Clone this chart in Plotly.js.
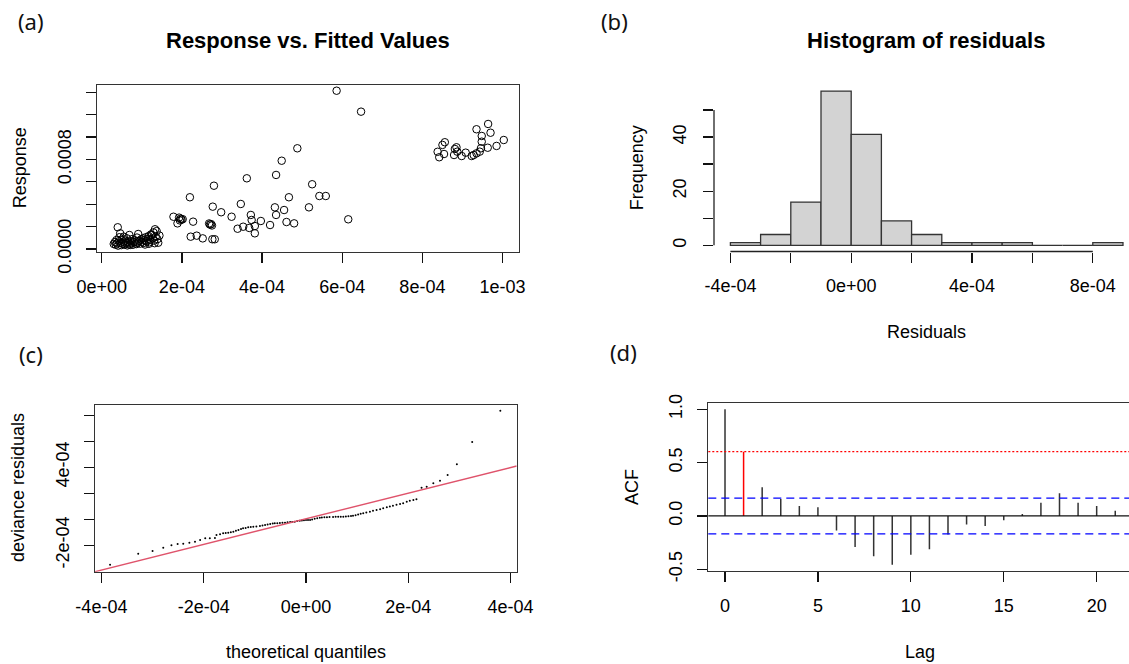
<!DOCTYPE html>
<html>
<head>
<meta charset="utf-8">
<script src="https://cdn.plot.ly/plotly-3.0.1.min.js"></script>
<style>
  html, body { margin: 0; padding: 0; background: #fff; }
  #chart { width: 1129px; height: 664px; }
</style>
</head>
<body>
<div id="chart"></div>
<script>
// ---------------- DATA ----------------
// (a) Response vs. Fitted Values (values in units of 1e-4)
const fittedE4 = [
  0.30,0.33,0.35,0.37,0.38,0.40,0.41,0.43,0.44,0.46,0.47,0.49,0.50,0.52,0.54,0.55,0.57,0.59,0.61,0.63,
  0.64,0.66,0.69,0.70,0.72,0.74,0.76,0.78,0.80,0.83,0.85,0.88,0.90,0.91,0.93,0.96,0.98,1.00,1.03,1.05,
  1.07,1.10,1.12,1.15,1.17,1.19,1.21,1.23,1.25,1.27,1.29,1.31,1.33,1.35,1.37,1.39,1.41,1.44,
  0.58,0.71,0.87,1.08,1.18,1.32,
  1.79,1.89,1.93,1.97,1.99,1.95,2.02,2.20,2.28,2.22,2.37,2.52,2.68,2.70,2.73,2.75,2.76,2.82,2.77,2.80,
  2.98,3.24,3.47,3.62,3.39,3.53,3.68,3.72,3.74,3.82,3.82,3.97,4.20,4.32,4.35,4.35,4.49,4.55,4.61,4.67,
  4.80,4.88,5.17,5.25,5.43,5.59,5.86,6.15,6.47,
  8.38,8.42,8.54,8.50,8.56,8.81,8.85,8.79,8.87,8.98,9.08,9.23,9.28,9.35,9.35,9.43,9.48,9.48,9.46,9.64,
  9.70,9.63,9.85,10.03
];
const responseE4 = [
  0.45,0.62,0.38,0.80,0.50,1.94,0.30,0.70,1.05,1.40,0.55,0.35,0.85,0.48,0.65,1.10,0.40,0.75,0.55,0.95,
  0.32,0.60,1.25,0.45,0.70,0.52,0.88,0.38,0.62,0.75,0.50,1.02,0.58,1.34,0.72,0.48,0.86,0.65,0.95,0.55,
  0.78,1.05,0.68,0.90,1.15,0.60,0.82,1.30,1.25,0.95,1.48,0.75,1.76,1.10,1.60,0.88,0.56,1.20,
  0.42,0.36,0.44,0.40,0.47,0.52,
  2.88,2.29,2.80,2.70,2.62,2.55,2.66,4.62,2.44,1.10,1.19,0.95,2.28,2.18,2.22,2.10,0.87,0.87,3.78,5.65,
  3.28,2.88,4.02,6.31,1.81,1.99,1.88,3.04,2.59,2.05,1.40,2.50,2.14,3.72,6.61,3.04,7.88,3.48,2.41,4.62,
  2.29,8.99,3.72,5.78,4.73,4.73,14.13,2.65,12.26,
  8.68,8.19,8.48,9.29,9.53,8.93,9.08,8.39,8.69,8.30,8.60,8.30,8.39,8.54,10.69,8.69,9.58,10.09,8.99,11.16,
  10.38,9.04,9.20,9.73
];
const xTicksA = [0, 2e-4, 4e-4, 6e-4, 8e-4, 1e-3];
const xLabelsA = ['0e+00', '2e-04', '4e-04', '6e-04', '8e-04', '1e-03'];
const yTicksA = [0, 2e-4, 4e-4, 6e-4, 8e-4, 10e-4, 12e-4, 14e-4];
const yLabelsA = ['0.0000', '', '', '', '0.0008', '', '', ''];

// (b) Histogram of residuals
const binEdges = [-4e-4,-3e-4,-2e-4,-1e-4,0,1e-4,2e-4,3e-4,4e-4,5e-4,6e-4,7e-4,8e-4,9e-4];
const binCounts = [1, 4, 16, 57, 41, 9, 4, 1, 1, 1, 0, 0, 1];
const xTicksB = [-4e-4, -2e-4, 0, 2e-4, 4e-4, 6e-4, 8e-4];
const xLabelsB = ['-4e-04', '', '0e+00', '', '4e-04', '', '8e-04'];
const yTicksB = [0, 10, 20, 30, 40, 50];
const yLabelsB = ['0', '', '20', '', '40', ''];

// (c) QQ plot of deviance residuals (units of 1e-4)
const qqTheoE4 = [
  -3.83,-3.28,-3.00,-2.79,-2.63,-2.51,-2.40,-2.28,-2.17,-2.07,-1.97,-1.88,-1.78,-1.75,-1.68,-1.62,-1.57,-1.52,-1.47,-1.42,
  -1.37,-1.32,-1.27,-1.23,-1.18,-1.13,-1.08,-1.03,-0.97,-0.90,-0.85,-0.80,-0.75,-0.70,-0.65,-0.61,-0.56,-0.51,-0.46,-0.41,
  -0.36,-0.31,-0.27,-0.22,-0.17,-0.12,-0.08,-0.04,0.00,0.04,0.08,0.12,0.17,0.22,0.27,0.31,0.36,0.41,0.46,0.53,
  0.58,0.63,0.68,0.73,0.78,0.83,0.88,0.92,0.97,1.02,1.07,1.12,1.18,1.25,1.31,1.38,1.45,1.51,1.58,1.64,
  1.70,1.77,1.84,1.90,1.97,2.03,2.10,2.16,2.26,2.36,2.49,2.62,2.77,2.95,3.25,3.80
];
const qqResidE4 = [
  -3.49,-2.65,-2.44,-2.18,-2.00,-1.90,-1.88,-1.80,-1.72,-1.59,-1.46,-1.46,-1.44,-1.21,-1.15,-1.08,-1.05,-1.03,-0.99,-0.95,
  -0.88,-0.82,-0.75,-0.69,-0.66,-0.62,-0.60,-0.57,-0.55,-0.52,-0.48,-0.44,-0.40,-0.36,-0.33,-0.31,-0.30,-0.28,-0.27,-0.26,
  -0.23,-0.21,-0.20,-0.18,-0.14,-0.11,-0.09,-0.07,-0.06,-0.05,-0.05,-0.01,0.05,0.09,0.12,0.13,0.15,0.16,0.17,0.18,
  0.19,0.19,0.20,0.20,0.22,0.24,0.26,0.28,0.32,0.37,0.42,0.46,0.52,0.58,0.65,0.71,0.77,0.84,0.92,0.98,
  1.04,1.12,1.17,1.23,1.35,1.43,1.49,1.54,2.43,2.51,2.77,2.97,3.41,4.23,5.95,8.35
];
const qqLineIntercept = 3.8e-6;
const qqLineSlope = 0.986;
const xTicksC = [-4e-4, -2e-4, 0, 2e-4, 4e-4];
const xLabelsC = ['-4e-04', '-2e-04', '0e+00', '2e-04', '4e-04'];
const yTicksC = [-2e-4, 0, 2e-4, 4e-4, 6e-4, 8e-4];
const yLabelsC = ['-2e-04', '', '', '4e-04', '', ''];

// (d) ACF of residuals
const acfLags = [0,1,2,3,4,5,6,7,8,9,10,11,12,13,14,15,16,17,18,19,20,21];
const acfValues = [1.0,0.603,0.269,0.159,0.093,0.081,-0.137,-0.290,-0.377,-0.457,-0.364,-0.311,-0.174,-0.081,-0.093,-0.040,0.019,0.125,0.212,0.125,0.093,0.050];
const acfCI = 0.168;
const acfRedLevel = 0.603;
const xTicksD = [0, 5, 10, 15, 20];
const yTicksD = [-0.5, 0, 0.5, 1.0];
const yLabelsD = ['-0.5', '0.0', '0.5', '1.0'];

// ---------------- LAYOUT HELPERS ----------------
const W = 1129, H = 664;
const px = v => v / W;           // pixel x -> paper
const py = v => 1 - v / H;       // pixel y -> paper
const FONT = 'Liberation Sans, Arial, Helvetica, sans-serif';
const LABFONT = 'Noto Sans, Open Sans, sans-serif';
const E4 = 1e-4;

const base = {
  showgrid: false, zeroline: false, ticks: 'outside', ticklen: 10, tickwidth: 1.3,
  tickcolor: '#111', showline: true, mirror: true, linecolor: '#333', linewidth: 1.3,
  tickfont: { family: FONT, size: 18, color: '#000' }, fixedrange: true, automargin: false
};
const xAx = (o) => Object.assign({}, base, { ticklabelstandoff: 8 }, o);
const yAx = (o) => Object.assign({}, base, { tickangle: -90, ticklabelstandoff: 8 }, o);

// ---------------- TRACES ----------------
const traces = [];
traces.push({
  type: 'scatter', mode: 'markers', xaxis: 'x', yaxis: 'y',
  x: fittedE4.map(v => v * E4), y: responseE4.map(v => v * E4),
  marker: { symbol: 'circle-open', size: 7.5, color: '#000', line: { width: 1, color: '#000' } },
  hoverinfo: 'skip'
});

const binCenters = binCounts.map((_, i) => (binEdges[i] + binEdges[i + 1]) / 2);
const binWidths = binCounts.map((_, i) => binEdges[i + 1] - binEdges[i]);
traces.push({
  type: 'bar', xaxis: 'x2', yaxis: 'y2', x: binCenters, y: binCounts, width: binWidths,
  marker: { color: '#D3D3D3', line: { color: '#333', width: 1.3 } }, hoverinfo: 'skip'
});

traces.push({
  type: 'scatter', mode: 'markers', xaxis: 'x3', yaxis: 'y3',
  x: qqTheoE4.map(v => v * E4), y: qqResidE4.map(v => v * E4),
  marker: { symbol: 'circle', size: 2, color: '#000' }, hoverinfo: 'skip'
});
const rangeC = [-4.125e-4, 4.12e-4];
traces.push({
  type: 'scatter', mode: 'lines', xaxis: 'x3', yaxis: 'y3',
  x: rangeC, y: rangeC.map(v => qqLineIntercept + qqLineSlope * v),
  line: { color: '#DF536B', width: 1.4 }, hoverinfo: 'skip'
});

// ACF spikes
const spikeX = [], spikeY = [], redX = [], redY = [];
acfLags.forEach((l, i) => {
  if (l === 1) { redX.push(l, l); redY.push(0, acfValues[i]); }
  else { spikeX.push(l, l, null); spikeY.push(0, acfValues[i], null); }
});
traces.push({
  type: 'scatter', mode: 'lines', xaxis: 'x4', yaxis: 'y4', x: spikeX, y: spikeY,
  line: { color: '#333', width: 1.5 }, connectgaps: false, hoverinfo: 'skip'
});
traces.push({
  type: 'scatter', mode: 'lines', xaxis: 'x4', yaxis: 'y4', x: redX, y: redY,
  line: { color: '#FF0000', width: 1.5 }, hoverinfo: 'skip'
});

// ---------------- LAYOUT ----------------
const ann = (text, x, y, o) => Object.assign({
  text, x: px(x), y: py(y), xref: 'paper', yref: 'paper', showarrow: false,
  xanchor: 'center', yanchor: 'middle', font: { family: FONT, size: 18, color: '#000' }
}, o || {});
const panelFont = { family: LABFONT, size: 22, color: '#111' };

const layout = {
  width: W, height: H, margin: { l: 0, r: 0, t: 0, b: 0 },
  paper_bgcolor: '#fff', plot_bgcolor: '#fff', showlegend: false,
  font: { family: FONT, size: 18, color: '#000' },
  // (a)
  xaxis: xAx({ domain: [px(97.3), px(519)], range: [-0.11e-4, 10.41e-4], tickvals: xTicksA, ticktext: xLabelsA, anchor: 'y' }),
  yaxis: yAx({ domain: [py(251.7), py(85)], range: [-0.241e-4, 14.64e-4], tickvals: yTicksA, ticktext: yLabelsA, anchor: 'x' }),
  // (b)
  xaxis2: xAx({ domain: [px(714), 1], range: [-4.543e-4, 9.199e-4], tickvals: xTicksB, ticktext: xLabelsB, anchor: 'y2', showline: false, mirror: false }),
  yaxis2: yAx({ domain: [py(251.5), py(84.9)], range: [-2.28, 59.28], tickvals: yTicksB, ticktext: yLabelsB, anchor: 'x2', showline: false, mirror: false, ticklabelstandoff: 10 }),
  // (c)
  xaxis3: xAx({ domain: [px(95), px(516.7)], range: rangeC, tickvals: xTicksC, ticktext: xLabelsC, anchor: 'y3' }),
  yaxis3: yAx({ domain: [py(571.7), py(405)], range: [-4.03e-4, 8.79e-4], tickvals: yTicksC, ticktext: yLabelsC, anchor: 'x3' }),
  // (d)
  xaxis4: xAx({ domain: [px(708.3), 1], range: [-0.899, 21.74], tickvals: xTicksD, ticktext: xTicksD.map(String), anchor: 'y4' }),
  yaxis4: yAx({ domain: [py(570.7), py(403.3)], range: [-0.513, 1.056], tickvals: yTicksD, ticktext: yLabelsD, anchor: 'x4' }),
  shapes: [
    // (b) axis lines spanning first to last tick
    { type: 'line', xref: 'x2', yref: 'y2 domain', x0: xTicksB[0], x1: xTicksB[xTicksB.length - 1], y0: 0, y1: 0, line: { color: '#222', width: 1.3 } },
    { type: 'line', xref: 'x2 domain', yref: 'y2', x0: 0, x1: 0, y0: yTicksB[0], y1: yTicksB[yTicksB.length - 1], line: { color: '#222', width: 1.3 } },
    // (d) reference lines
    { type: 'line', xref: 'x4 domain', yref: 'y4', x0: 0, x1: 1, y0: 0, y1: 0, line: { color: '#111', width: 1.3 } },
    { type: 'line', xref: 'x4 domain', yref: 'y4', x0: 0, x1: 1, y0: acfCI, y1: acfCI, line: { color: '#0000FF', width: 1.3, dash: '8px,5px' } },
    { type: 'line', xref: 'x4 domain', yref: 'y4', x0: 0, x1: 1, y0: -acfCI, y1: -acfCI, line: { color: '#0000FF', width: 1.3, dash: '8px,5px' } },
    { type: 'line', xref: 'x4 domain', yref: 'y4', x0: 0, x1: 1, y0: acfRedLevel, y1: acfRedLevel, line: { color: '#FF0000', width: 1.2, dash: '2px,2px' } }
  ],
  annotations: [
    ann('<b>Response vs. Fitted Values</b>', 308.2, 41, { font: { family: FONT, size: 22, color: '#000' } }),
    ann('<b>Histogram of residuals</b>', 926, 41, { font: { family: FONT, size: 22, color: '#000' } }),
    ann('Response', 20, 168.3, { textangle: -90 }),
    ann('Frequency', 637, 168.3, { textangle: -90 }),
    ann('Residuals', 926, 331.7),
    ann('deviance residuals', 18, 488, { textangle: -90 }),
    ann('theoretical quantiles', 306, 651.7),
    ann('ACF', 632, 487, { textangle: -90 }),
    ann('Lag', 920, 651.7),
    ann('(a)', 31, 21, { font: panelFont }),
    ann('(b)', 614, 21, { font: panelFont }),
    ann('(c)', 31, 354, { font: panelFont }),
    ann('(d)', 623, 352, { font: panelFont })
  ]
};

Plotly.newPlot('chart', traces, layout, { staticPlot: true, displayModeBar: false });
</script>
</body>
</html>
